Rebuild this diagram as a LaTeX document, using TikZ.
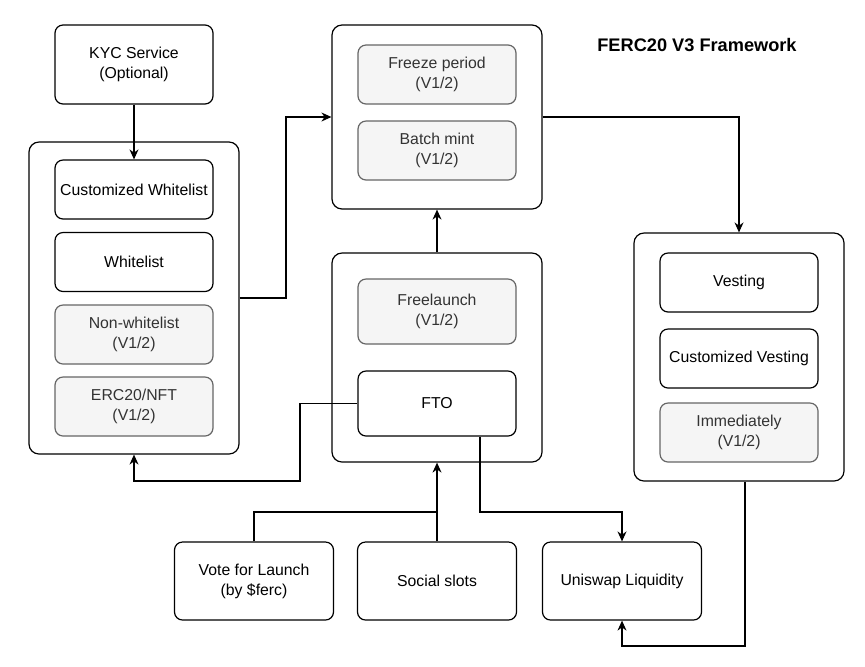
\documentclass[tikz,border=0pt]{standalone}
\usepackage{fontspec}
\setmainfont{Liberation Sans}
\usepackage{tikz}
\usetikzlibrary{arrows.meta}
\definecolor{greyfill}{HTML}{F5F5F5}
\definecolor{greyline}{HTML}{666666}
\definecolor{greytext}{HTML}{333333}

\begin{document}
\begin{tikzpicture}[x=0.5pt,y=-0.5pt,line width=0.6pt,>={Stealth[length=5pt,width=4.5pt]},
    frame/.style={draw,rounded corners=5pt,minimum width=105pt},
    box/.style={draw,rounded corners=4pt,inner sep=0pt,align=center,fill=white,
      minimum width=79pt,minimum height=29.5pt,font=\fontsize{7.9}{10}\selectfont},
    greybox/.style={box,fill=greyfill,draw=greyline,text=greytext},
    lowbox/.style={box,minimum width=79.5pt,minimum height=39pt}]
      \useasboundingbox (0,0) rectangle (865,666);

      % containers
      \node[frame,minimum height=156pt]   (box-left)  at (134,298)   {};
      \node[frame,minimum height=92pt]    (box-top)   at (437,117)   {};
      \node[frame,minimum height=104.5pt] (box-mid)   at (437,357.5) {};
      \node[frame,minimum height=124pt]   (box-right) at (739,357)   {};

      \node[box,minimum height=39.5pt] (kyc)        at (134,64.5)  {KYC Service\\ (Optional)};
      \node[box]                       (cust-white) at (134,189.5) {Customized Whitelist};
      \node[box]                       (whitelist)  at (134,262)   {Whitelist};
      \node[greybox]                   (non-white)  at (134,334.5) {Non-whitelist\\ (V1/2)};
      \node[greybox]                   (erc-nft)    at (134,406.5) {ERC20/NFT\\(V1/2)};

      \node[greybox]                   (freeze)     at (437,74.5)  {Freeze period\\ (V1/2)};
      \node[greybox]                   (batch)      at (437,150.5) {Batch mint\\ (V1/2)};
      \node[greybox,minimum height=32.5pt] (freelaunch) at (437,311.5) {Freelaunch\\ (V1/2)};
      \node[box,minimum height=32.5pt] (fto)        at (437,403.5) {FTO};

      \node[box]                       (vesting)    at (739,282.5) {Vesting};
      \node[box]                       (cust-vest)  at (739,358.5) {Customized Vesting};
      \node[greybox]                   (immed)      at (739,432.5) {Immediately\\ (V1/2)};

      \node[lowbox] (vote)    at (254,581) {Vote for Launch\\ (by \$ferc)};
      \node[lowbox] (social)  at (437,581) {Social slots};
      \node[lowbox] (uniswap) at (622,581) {Uniswap Liquidity};

      \node[font=\fontsize{9.1}{11}\selectfont\bfseries] (title) at (697,45) {FERC20 V3 Framework};

      % bends
      \coordinate (bend-a) at (286,298);
      \coordinate (bend-b) at (300,481);
      \coordinate (join-a) at (437,512);
      \coordinate (bend-c) at (480,512);
      \coordinate (bend-d) at (745,646);

      \draw[->] (kyc) -- (cust-white);
      \draw[->] (box-left.east) -- (bend-a) |- (box-top.west);
      \draw[->] (box-top.east) -| (box-right.north);
      \draw[->] (box-mid.north) -- (box-top.south);
      \draw[->] (fto.west) -| (bend-b) -| (box-left.south);
      \draw     (vote.north) |- (join-a);
      \draw[->] (social.north) -- (box-mid.south);
      \draw[->] (fto.south -| bend-c) -- (bend-c) -| (uniswap.north);
      \draw[->] (box-right.south -| bend-d) -- (bend-d) -| (uniswap.south);
    \end{tikzpicture}
\end{document}
